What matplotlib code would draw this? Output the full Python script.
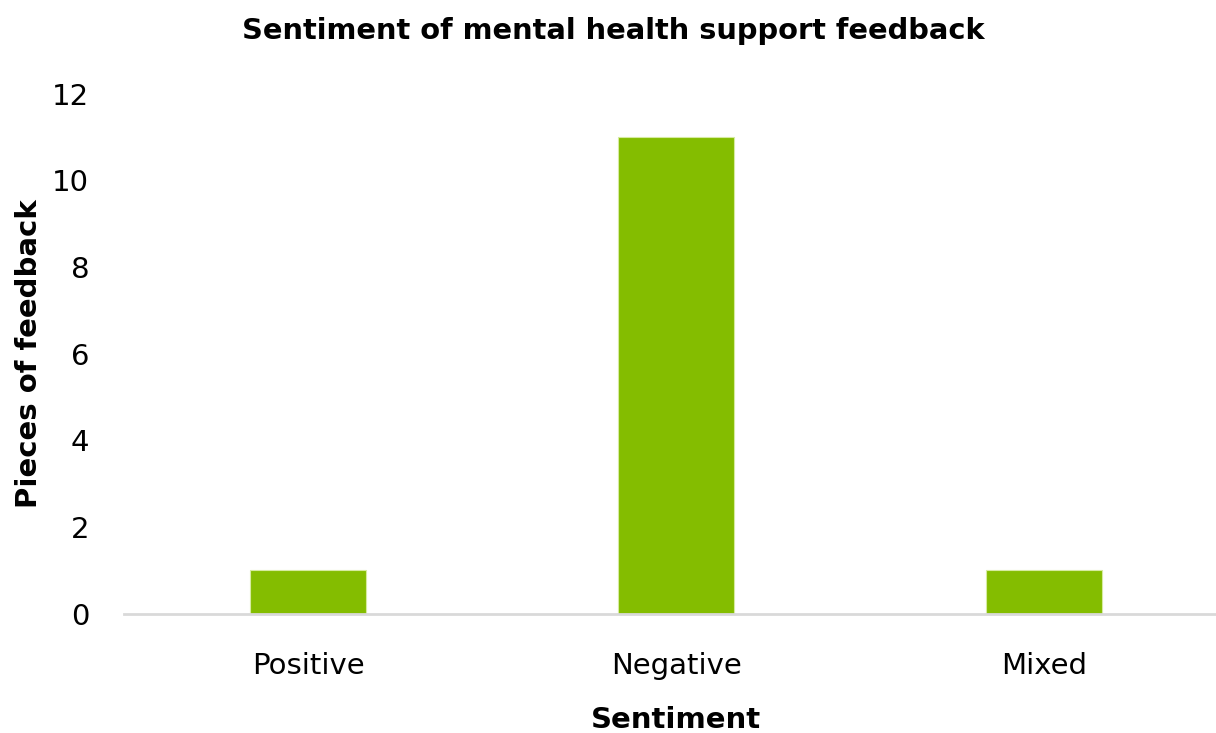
import matplotlib
matplotlib.use("Agg")
import matplotlib.pyplot as plt

# ===== Chart data =====
CATEGORIES = ["Positive", "Negative", "Mixed"]
COUNTS = [1, 11, 1]
Y_TICKS = [0, 2, 4, 6, 8, 10, 12]

BAR_COLOR = "#84BD00"
AXIS_COLOR = "#D9D9D9"
FONT = ["DejaVu Sans"]


def main() -> None:
    plt.rcParams["font.family"] = FONT
    fig = plt.figure(figsize=(12.16, 7.33), dpi=100)
    ax = fig.add_axes([0.102, 0.163, 0.908, 0.709])

    positions = range(len(CATEGORIES))
    ax.bar(positions, COUNTS, width=0.315, color=BAR_COLOR,
           edgecolor="#D6EBA0", linewidth=0.8, zorder=2)

    ax.set_xlim(-0.5, 2.5)
    ax.set_ylim(0, 12)
    ax.set_yticks(Y_TICKS)
    ax.set_xticks(list(positions))
    ax.set_xticklabels(CATEGORIES)

    for side in ("top", "right", "left"):
        ax.spines[side].set_visible(False)
    ax.spines["bottom"].set_color(AXIS_COLOR)
    ax.spines["bottom"].set_linewidth(2)
    ax.spines["bottom"].set_zorder(3)

    ax.tick_params(axis="both", length=0, labelsize=21, colors="#000000")
    ax.tick_params(axis="x", pad=28)
    ax.tick_params(axis="y", pad=25)

    # axis titles and chart title placed in figure coordinates
    fig.text(0.556, 0.018, "Sentiment", ha="center", va="center",
             fontsize=21, fontweight="bold")
    fig.text(0.024, 0.517, "Pieces of feedback", ha="center", va="center",
             rotation=90, fontsize=21, fontweight="bold")
    fig.text(0.504, 0.958, "Sentiment of mental health support feedback",
             ha="center", va="center", fontsize=20.8, fontweight="bold")

    fig.savefig("out.png", dpi=100)


if __name__ == "__main__":
    main()
